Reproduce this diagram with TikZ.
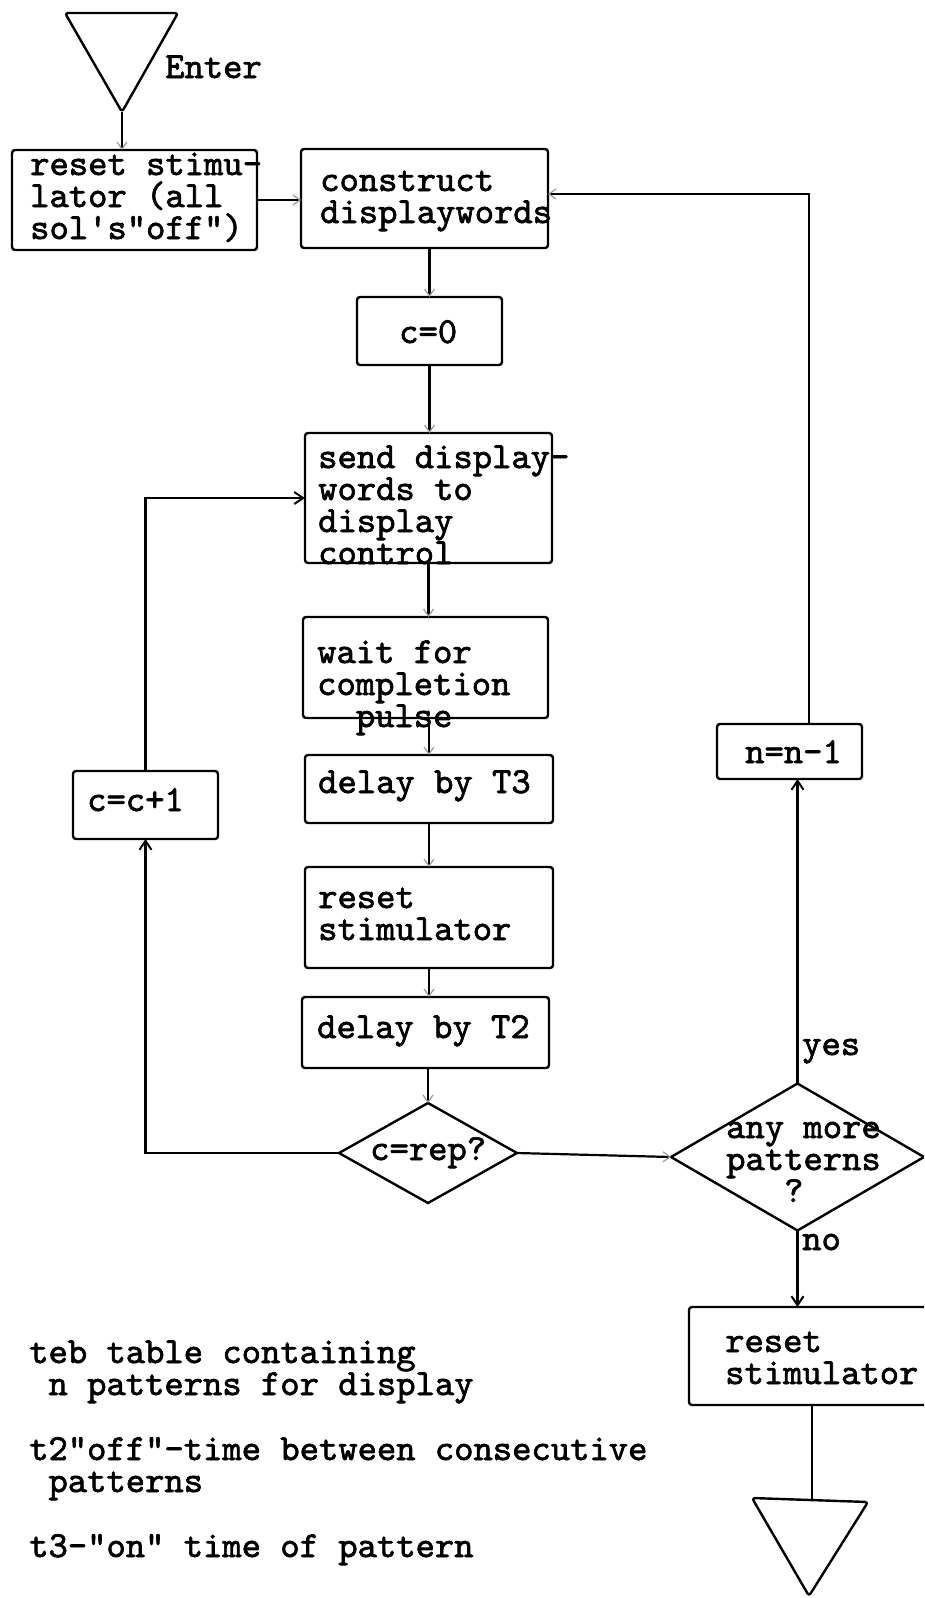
\documentclass[tikz,border=0pt]{standalone}
\usepackage{fontspec}
\setmonofont{lmmono10-regular.otf}[BoldFont=lmmono10-regular.otf, BoldFeatures={FakeBold=1.8}]
\usetikzlibrary{shapes.geometric,arrows.meta}

% multi-line text whose baseline is that of its first line
\newcommand\fctext[1]{\parbox[t]{800pt}{\raggedright #1}}

\tikzset{
  fcbox/.style={draw, line width=2.4pt, rounded corners=3pt, inner sep=0pt, outer sep=0pt},
  fcdiam/.style={draw, diamond, line width=2.4pt, inner sep=0pt, outer sep=0pt},
  fctxt/.style={anchor=base west, inner sep=0pt,
    font=\ttfamily\bfseries\fontsize{36.8}{32}\selectfont},
  flow/.style={line width=2.2pt},
  faintarrow/.style={flow, -{Straight Barb[length=7pt,width=10pt,line width=1.2pt,color=black!40]}},
  darkarrow/.style={flow, -{Straight Barb[length=9pt,width=12pt,line width=2pt]}},
  terminal/.style={line width=2.4pt, rounded corners=3pt, line join=round},
}

\begin{document}
\begin{tikzpicture}[x=1pt, y=-1pt]
\useasboundingbox (0,0) rectangle (924,1598);
\clip (0,0) rectangle (924,1598);

% entry terminal
\coordinate (entA) at (65,13);
\coordinate (entB) at (178,13);
\coordinate (entC) at (122,112);
\draw[terminal] (entA) -- (entB) -- (entC) -- cycle;
\node[fctxt] (enter) at (165,78) {Enter};

% process boxes
\node[fcbox, minimum width=245pt, minimum height=100pt] (box1) at (134.5,200) {};
\node[fcbox, minimum width=247pt, minimum height=99pt]  (box2) at (424.5,198.5) {};
\node[fcbox, minimum width=145pt, minimum height=68pt]  (czero) at (429.5,331) {};
\node[fcbox, minimum width=247pt, minimum height=130pt] (send) at (428.5,498) {};
\node[fcbox, minimum width=245pt, minimum height=101pt] (wait) at (425.5,667.5) {};
\node[fcbox, minimum width=248pt, minimum height=68pt]  (dthree) at (429,789) {};
\node[fcbox, minimum width=248pt, minimum height=101pt] (reset) at (429,917.5) {};
\node[fcbox, minimum width=247pt, minimum height=71pt]  (dtwo) at (425.5,1032.5) {};
\node[fcbox, minimum width=145pt, minimum height=68pt]  (cinc) at (145.5,805) {};
\node[fcbox, minimum width=145pt, minimum height=55pt]  (ndec) at (789.5,751.5) {};
\node[fcbox, minimum width=251pt, minimum height=98pt]  (resetb) at (814.5,1356) {};

% decisions
\node[fcdiam, minimum width=178pt, minimum height=100pt] (drep) at (428,1153) {};
\node[fcdiam, minimum width=253pt, minimum height=147pt] (dmore) at (797.5,1157) {};

% exit terminal
\coordinate (exA) at (752,1498);
\coordinate (exB) at (868,1502);
\coordinate (exC) at (809,1596);
\coordinate (exM) at (812,1500);
\draw[terminal] (exA) -- (exB) -- (exC) -- cycle;

% texts
\node[fctxt] (tbox1) at (30,175) {\fctext{reset stimu-\\lator (all\\sol's"off")}};
\node[fctxt] (tbox2) at (320,191) {\fctext{construct\\displaywords}};
\node[fctxt] (tczero) at (399,343) {c=0};
\node[fctxt] (tsend) at (318,468) {\fctext{send display-\\words to\\display\\control}};
\node[fctxt] (twait) at (317,663) {\fctext{wait for\\completion\\\phantom{xx}pulse}};
\node[fctxt] (tdthree) at (318,793) {delay by T3};
\node[fctxt] (treset) at (318,908) {\fctext{reset\\stimulator}};
\node[fctxt] (tdtwo) at (317,1038) {delay by T2};
\node[fctxt] (tdrep) at (370,1160) {c=rep?};
\node[fctxt] (tdmore) at (726,1138) {\fctext{any more\\patterns\\\phantom{xxx}?}};
\node[fctxt] (tcinc) at (87,811) {c=c+1};
\node[fctxt] (tndec) at (745,763) {n=n-1};
\node[fctxt] (tresetb) at (725,1352) {\fctext{reset\\stimulator}};
\node[fctxt] (tyes) at (802,1055) {yes};
\node[fctxt] (tno) at (802,1250) {no};

% legend
\node[fctxt] (legA) at (29,1363) {\fctext{teb table containing\\\phantom{x}n patterns for display}};
\node[fctxt] (legB) at (29,1460) {\fctext{t2"off"-time between consecutive\\\phantom{x}patterns}};
\node[fctxt] (legC) at (29,1557) {t3-"on" time of pattern};

% connectors
\coordinate (ret) at (809,194);
\draw[faintarrow] (entC) -- (entC |- box1.north);
\draw[faintarrow] (box1.east) -- (box1.east -| box2.west);
\draw[faintarrow] (czero.north |- box2.south) -- (czero.north);
\draw[faintarrow] (czero.south) -- (czero.south |- send.north);
\draw[faintarrow] (send.south) -- (send.south |- wait.north);
\draw[faintarrow] (dthree.north |- wait.south) -- (dthree.north);
\draw[faintarrow] (dthree.south) -- (reset.north);
\draw[faintarrow] (reset.south) -- (reset.south |- dtwo.north);
\draw[faintarrow] (drep.north |- dtwo.south) -- (drep.north);
\draw[darkarrow] (drep.west) -| (cinc.south);
\draw[darkarrow] (cinc.north) |- (send.west);
\draw[faintarrow] (drep.east) -- (dmore.west);
\draw[darkarrow] (dmore.north) -- (dmore.north |- ndec.south);
\draw[faintarrow] (ret |- ndec.north) -- (ret) -- (ret -| box2.east);
\draw[darkarrow] (dmore.south) -- (dmore.south |- resetb.north);
\draw[flow] (exM |- resetb.south) -- (exM);
\end{tikzpicture}
\end{document}
